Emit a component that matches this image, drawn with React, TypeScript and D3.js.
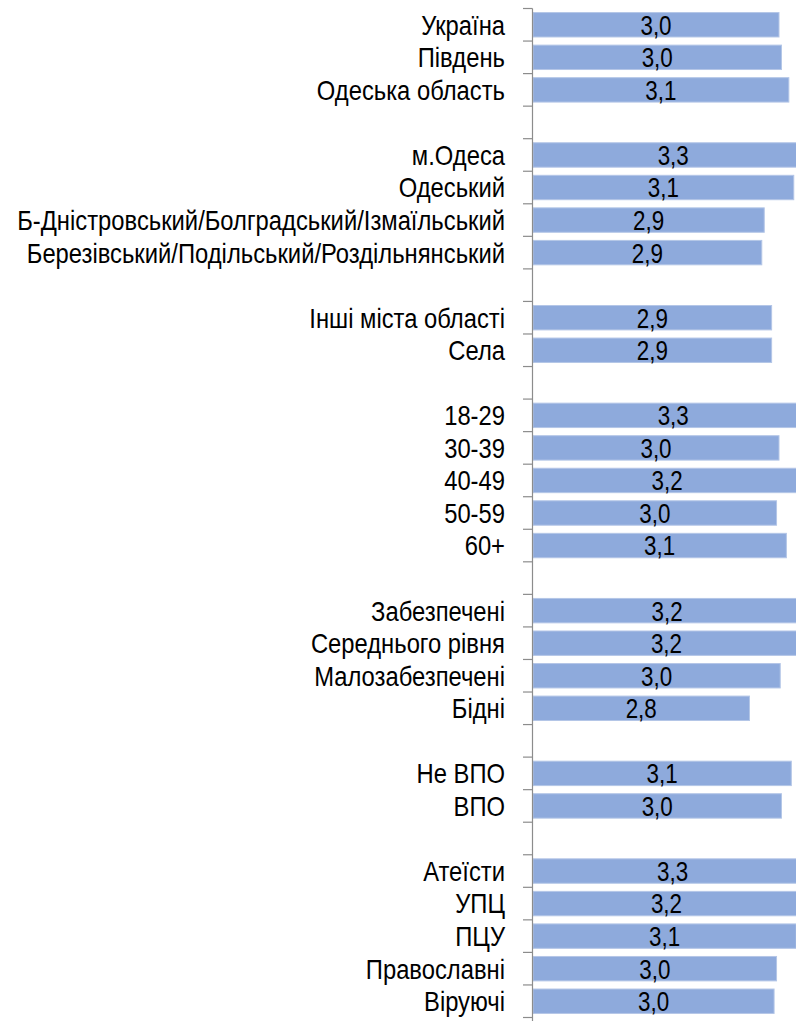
import React from "react";
import * as d3 from "d3";

const categories: string[] = [
  "Україна", "Південь", "Одеська область", "",
  "м.Одеса", "Одеський", "Б-Дністровський/Болградський/Ізмаїльський", "Березівський/Подільський/Роздільнянський", " ",
  "Інші міста області", "Села", "  ",
  "18-29", "30-39", "40-49", "50-59", "60+", "   ",
  "Забезпечені", "Середнього рівня", "Малозабезпечені", "Бідні", "    ",
  "Не ВПО", "ВПО", "     ",
  "Атеїсти", "УПЦ", "ПЦУ", "Православні", "Віруючі",
];

const values: (number | null)[] = [
  3.00, 3.02, 3.08, null,
  3.28, 3.12, 2.88, 2.86, null,
  2.94, 2.94, null,
  3.28, 3.00, 3.18, 2.98, 3.06, null,
  3.18, 3.17, 3.01, 2.76, null,
  3.10, 3.02, null,
  3.27, 3.17, 3.14, 2.98, 2.96,
];

const xDomain: [number, number] = [1, 3.5];

const W = 796;
const H = 1021;
const FONT = "'Liberation Sans', Arial, sans-serif";
const FS = 27.5;
const SX_VAL = 0.815;
const SX_CAT = 0.865;

export default function App() {
  const axisX = 532.5;
  const x = d3.scaleLinear().domain(xDomain).range([533, 533 + 2.5 * 123]);
  const y = d3
    .scaleBand<string>()
    .domain(categories)
    .range([8.5, 1017.5])
    .paddingInner(0.25)
    .paddingOuter(0.125);
  const step = y.step();
  const fmt = (v: number) => v.toFixed(1).replace(".", ",");

  return (
    <svg
      width={W}
      height={H}
      style={{ position: "absolute", left: 0, top: 0, display: "block" }}
      fontFamily={FONT}
    >
      <rect x={0} y={0} width={W} height={H} fill="#ffffff" />
      {categories.map((c, i) => {
        const v = values[i];
        const yb = y(c)!;
        const cy = yb + y.bandwidth() / 2;
        return (
          <g key={i}>
            {v !== null && (
              <rect
                x={x(xDomain[0])}
                y={yb}
                width={x(v) - x(xDomain[0])}
                height={y.bandwidth()}
                fill="#8eaadc"
                stroke="#b4c6e7"
                strokeWidth={1}
              />
            )}
            {v !== null && (
              <text
                transform={`translate(${(x(xDomain[0]) + x(v)) / 2},${cy}) scale(${SX_VAL},1)`}
                dy="0.36em"
                textAnchor="middle"
                fontSize={FS}
                fill="#000"
              >
                {fmt(v)}
              </text>
            )}
            <text
              transform={`translate(505,${cy}) scale(${SX_CAT},1)`}
              dy="0.36em"
              textAnchor="end"
              fontSize={FS}
              fill="#000"
            >
              {c.trim()}
            </text>
          </g>
        );
      })}
      <line x1={axisX} x2={axisX} y1={8.5} y2={H} stroke="#8c8c8c" strokeWidth={1.2} />
      {d3.range(categories.length + 1).map((k) => {
        const ty = 8.5 + k * step;
        return (
          <line key={k} x1={523} x2={axisX} y1={ty} y2={ty} stroke="#8c8c8c" strokeWidth={1.2} />
        );
      })}
    </svg>
  );
}
